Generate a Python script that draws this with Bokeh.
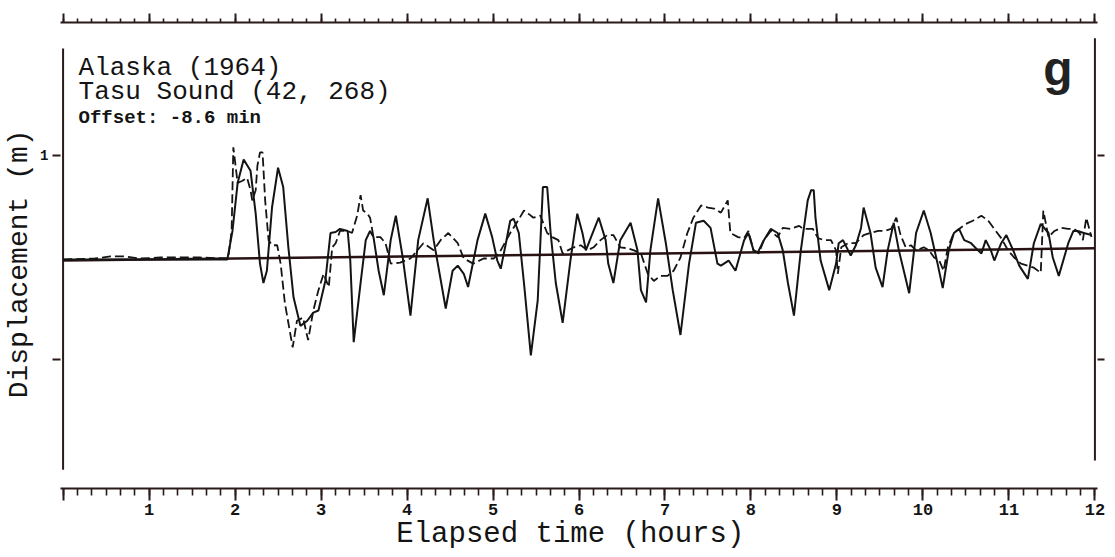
from bokeh.plotting import figure
from bokeh.models import LinearAxis, SingleIntervalTicker, FixedTicker, Range1d, Label
from bokeh.embed import file_html
from bokeh.resources import INLINE

# Computed tsunami record at Tasu Sound (solid line): elapsed time (h), displacement (m)
model_hours = [0.00, 1.91, 1.97, 2.03, 2.10, 2.18, 2.24, 2.29, 2.33, 2.37, 2.43, 2.50, 2.56, 2.62,
               2.68, 2.76, 2.84, 2.91, 2.97, 3.05, 3.11, 3.17, 3.22, 3.31, 3.34, 3.38, 3.46, 3.52,
               3.57, 3.61, 3.67, 3.73, 3.81, 3.87, 3.95, 4.04, 4.13, 4.24, 4.31, 4.45, 4.53, 4.59,
               4.66, 4.71, 4.82, 4.91, 4.99, 5.05, 5.09, 5.15, 5.20, 5.24, 5.30, 5.36, 5.44, 5.52,
               5.58, 5.63, 5.67, 5.73, 5.81, 5.90, 5.98, 6.04, 6.08, 6.14, 6.23, 6.31, 6.34, 6.40,
               6.48, 6.60, 6.68, 6.72, 6.78, 6.83, 6.92, 7.01, 7.09, 7.18, 7.28, 7.36, 7.45, 7.53,
               7.61, 7.65, 7.74, 7.82, 7.92, 7.97, 8.03, 8.08, 8.15, 8.23, 8.31, 8.37, 8.43, 8.50,
               8.58, 8.66, 8.70, 8.73, 8.75, 8.81, 8.91, 8.99, 9.02, 9.07, 9.13, 9.16, 9.22, 9.28,
               9.31, 9.39, 9.45, 9.53, 9.59, 9.66, 9.72, 9.84, 9.92, 10.01, 10.09, 10.17, 10.23,
               10.30, 10.36, 10.42, 10.48, 10.56, 10.64, 10.68, 10.73, 10.79, 10.83, 10.91, 10.97,
               11.05, 11.12, 11.22, 11.29, 11.37, 11.46, 11.51, 11.58, 11.69, 11.75, 11.80, 11.87,
               11.96]
model_disp = [-0.02, -0.02, 0.26, 0.73, 0.96, 0.85, 0.43, -0.06, -0.25, -0.13, 0.49, 0.88, 0.69, 0.10,
              -0.39, -0.67, -0.62, -0.54, -0.52, -0.23, 0.24, 0.25, 0.28, 0.26, -0.03, -0.83, -0.25, 0.17,
              0.26, 0.20, -0.13, -0.37, 0.17, 0.41, 0.00, -0.57, 0.17, 0.58, 0.17, -0.50, -0.13, -0.08,
              -0.16, -0.29, 0.17, 0.43, 0.20, -0.03, -0.11, 0.14, 0.36, 0.38, 0.24, -0.25, -0.96, -0.42,
              0.69, 0.69, 0.24, -0.25, -0.64, -0.03, 0.43, 0.24, 0.07, 0.20, 0.39, 0.17, -0.06, -0.25,
              0.17, 0.34, 0.07, -0.32, -0.44, 0.07, 0.58, 0.14, -0.32, -0.76, -0.06, 0.34, 0.36, 0.29,
              -0.06, -0.08, -0.03, -0.13, 0.17, 0.24, 0.07, 0.05, 0.17, 0.28, 0.24, 0.07, -0.25, -0.57,
              0.07, 0.56, 0.66, 0.66, 0.39, -0.03, -0.32, -0.06, 0.14, 0.17, 0.07, 0.02, 0.12, 0.29,
              0.49, 0.24, -0.10, -0.29, 0.07, 0.34, 0.07, -0.35, 0.24, 0.46, 0.24, -0.06, -0.30,
              0.07, 0.24, 0.28, 0.17, 0.14, 0.07, 0.04, 0.17, 0.07, -0.03, 0.14, 0.22,
              0.07, -0.08, -0.21, 0.14, 0.33, 0.24, 0.00, -0.18, 0.14, 0.26, 0.26, 0.24,
              0.22]

# Observed tide-gauge record (dashed line)
obs_hours = [0.00, 0.37, 0.55, 0.72, 0.90, 1.13, 1.59, 1.92, 1.96, 1.98, 2.03, 2.08, 2.14, 2.18, 2.20,
             2.24, 2.26, 2.29, 2.32, 2.35, 2.39, 2.43, 2.49, 2.53, 2.58, 2.67, 2.72, 2.79, 2.85, 2.91,
             2.97, 3.03, 3.09, 3.13, 3.17, 3.22, 3.31, 3.36, 3.42, 3.46, 3.49, 3.54, 3.57, 3.61, 3.69,
             3.75, 3.81, 3.92, 4.04, 4.12, 4.19, 4.31, 4.39, 4.48, 4.59, 4.66, 4.77, 4.89, 5.01, 5.09,
             5.20, 5.29, 5.36, 5.41, 5.47, 5.55, 5.63, 5.69, 5.76, 5.81, 5.87, 5.94, 6.02, 6.10, 6.17,
             6.25, 6.33, 6.40, 6.48, 6.57, 6.64, 6.72, 6.80, 6.87, 6.95, 7.03, 7.10, 7.18, 7.26, 7.33,
             7.42, 7.50, 7.57, 7.65, 7.73, 7.76, 7.85, 7.92, 7.97, 8.03, 8.09, 8.15, 8.23, 8.31, 8.37,
             8.46, 8.56, 8.61, 8.72, 8.78, 8.85, 8.93, 8.99, 9.01, 9.05, 9.13, 9.22, 9.31, 9.39, 9.48,
             9.55, 9.63, 9.69, 9.74, 9.80, 9.86, 9.92, 10.01, 10.07, 10.13, 10.19, 10.24, 10.29, 10.36,
             10.42, 10.50, 10.58, 10.68, 10.76, 10.83, 10.91, 10.99, 11.06, 11.14, 11.22, 11.29, 11.37,
             11.40, 11.46, 11.53, 11.61, 11.69, 11.76, 11.82, 11.86, 11.90, 11.96]
obs_disp = [-0.02, -0.01, 0.01, 0.01, -0.01, 0.00, 0.00, -0.01, 0.26, 1.08, 0.73, 0.75, 0.78, 0.66, 0.56,
            0.66, 0.90, 1.03, 1.03, 0.56, 0.17, 0.12, 0.12, -0.06, -0.45, -0.88, -0.62, -0.59, -0.81, -0.52,
            -0.32, -0.16, -0.29, 0.10, 0.14, 0.26, 0.26, 0.24, 0.41, 0.61, 0.46, 0.43, 0.39, 0.20, 0.20,
            0.14, -0.06, -0.05, -0.01, 0.07, 0.14, 0.07, 0.17, 0.24, 0.14, -0.01, -0.06, -0.01, -0.01, 0.07,
            0.24, 0.36, 0.46, 0.43, 0.39, 0.41, 0.24, 0.20, 0.17, 0.04, 0.07, 0.10, 0.12, 0.07, 0.10,
            0.17, 0.22, 0.22, 0.10, 0.09, 0.07, 0.04, -0.16, -0.23, -0.18, -0.18, -0.13, 0.00, 0.24, 0.39,
            0.51, 0.49, 0.48, 0.44, 0.56, 0.24, 0.20, 0.19, 0.26, 0.07, 0.04, 0.17, 0.26, 0.20, 0.29,
            0.28, 0.31, 0.28, 0.28, 0.19, 0.17, 0.17, 0.07, -0.16, 0.10, 0.14, 0.14, 0.22, 0.24, 0.26,
            0.26, 0.28, 0.39, 0.22, 0.10, 0.12, 0.07, 0.10, 0.07, 0.00, -0.03, -0.13, 0.10, 0.24,
            0.28, 0.33, 0.36, 0.41, 0.36, 0.28, 0.19, 0.07, 0.00, -0.06, -0.08, -0.10, -0.15,
            0.46, 0.20, 0.26, 0.29, 0.28, 0.28, 0.24, 0.17, 0.39, 0.20]

# Straight reference line through the quiet-water level
ref_hours = [0, 12]
ref_disp = [-0.03, 0.09]

# Ticks and labels
hour_ticks_interval = 1
minor_per_hour = 6            # 10-minute subdivisions
disp_ticks = [-1, 1]
disp_tick_labels = {-1: "", 1: "1"}

title_lines = ["Alaska  (1964)", "Tasu Sound  (42, 268)"]
offset_text = "Offset:   -8.6 min"
panel_tag = "g"
x_title = "Elapsed time  (hours)"
y_title = "Displacement  (m)"

# Extent of the left/right frame lines (m)
left_frame = [-2.08, 2.05]
right_frame = [-1.99, 2.15]

INK = "#141414"
RULE = "#2a1a1a"
MONO = "Liberation Mono"

p = figure(width=1115, height=557,
           x_range=Range1d(-0.03, 12.03), y_range=Range1d(-2.265, 2.304),
           x_axis_type=None, y_axis_type=None,
           output_backend="svg", toolbar_location=None,
           min_border_left=60, min_border_right=18, min_border_top=22, min_border_bottom=69)
p.outline_line_color = None
p.background_fill_color = "white"
p.border_fill_color = "white"


def style_ticks(ax, out_major, out_minor):
    ax.axis_line_color = RULE
    ax.axis_line_width = 2
    ax.major_tick_line_color = RULE
    ax.major_tick_line_width = 2
    ax.minor_tick_line_color = RULE
    ax.minor_tick_line_width = 1.6
    ax.major_tick_in = 0
    ax.minor_tick_in = 0
    ax.major_tick_out = out_major
    ax.minor_tick_out = out_minor


def style_title(ax, size):
    ax.axis_label_text_font = MONO
    ax.axis_label_text_font_style = "normal"
    ax.axis_label_text_font_size = size
    ax.axis_label_text_color = INK


# bottom time axis
xb = LinearAxis(ticker=SingleIntervalTicker(interval=hour_ticks_interval, num_minor_ticks=minor_per_hour),
                major_label_overrides={0: ""}, axis_label=x_title)
style_ticks(xb, 12, 7)
style_title(xb, "29px")
xb.axis_label_standoff = 0
xb.major_label_text_font = MONO
xb.major_label_text_font_style = "bold"
xb.major_label_text_font_size = "17px"
xb.major_label_text_color = INK
xb.major_label_standoff = 3
p.add_layout(xb, "below")

# ruler along the top edge
xt = LinearAxis(ticker=SingleIntervalTicker(interval=hour_ticks_interval, num_minor_ticks=minor_per_hour),
                major_label_overrides={i: "" for i in range(13)})
style_ticks(xt, 9, 4)
p.add_layout(xt, "above")

# left displacement axis (frame line drawn separately)
yl = LinearAxis(ticker=FixedTicker(ticks=disp_ticks, minor_ticks=[]),
                major_label_overrides=disp_tick_labels, axis_label=y_title)
style_ticks(yl, 8, 0)
style_title(yl, "28px")
yl.axis_label_standoff = 2
yl.axis_line_color = None
yl.major_label_text_font = MONO
yl.major_label_text_font_style = "bold"
yl.major_label_text_font_size = "14px"
yl.major_label_text_color = INK
yl.major_label_standoff = 4
p.add_layout(yl, "left")

yr = LinearAxis(ticker=FixedTicker(ticks=disp_ticks, minor_ticks=[]),
                major_label_overrides={t: "" for t in disp_ticks})
style_ticks(yr, 7, 0)
yr.axis_line_color = None
p.add_layout(yr, "right")

# frame lines
p.segment(x0=[0, 12], y0=[left_frame[0], right_frame[0]], x1=[0, 12], y1=[left_frame[1], right_frame[1]],
          line_color=RULE, line_width=2)

# reference level, records
p.line(ref_hours, ref_disp, line_color="#2a1212", line_width=2.6)
p.line(obs_hours, obs_disp, line_color=INK, line_width=1.8, line_dash="9 4")
p.line(model_hours, model_disp, line_color=INK, line_width=2)

# text annotations inside the frame
p.add_layout(Label(x=0.18, y=1.86, text=title_lines[0], text_font=MONO, text_font_size="26px",
                   text_color=INK, text_baseline="alphabetic"))
p.add_layout(Label(x=0.18, y=1.62, text=title_lines[1], text_font=MONO, text_font_size="26px",
                   text_color=INK, text_baseline="alphabetic"))
p.add_layout(Label(x=0.18, y=1.37, text=offset_text, text_font=MONO, text_font_size="19px",
                   text_font_style="bold", text_color=INK, text_baseline="alphabetic"))
p.add_layout(Label(x=11.40, y=1.85, text=panel_tag, text_font="Liberation Sans", text_font_size="48px",
                   text_font_style="bold", text_color="#222222", text_baseline="alphabetic"))

open("out.html", "w").write(file_html(p, INLINE))
